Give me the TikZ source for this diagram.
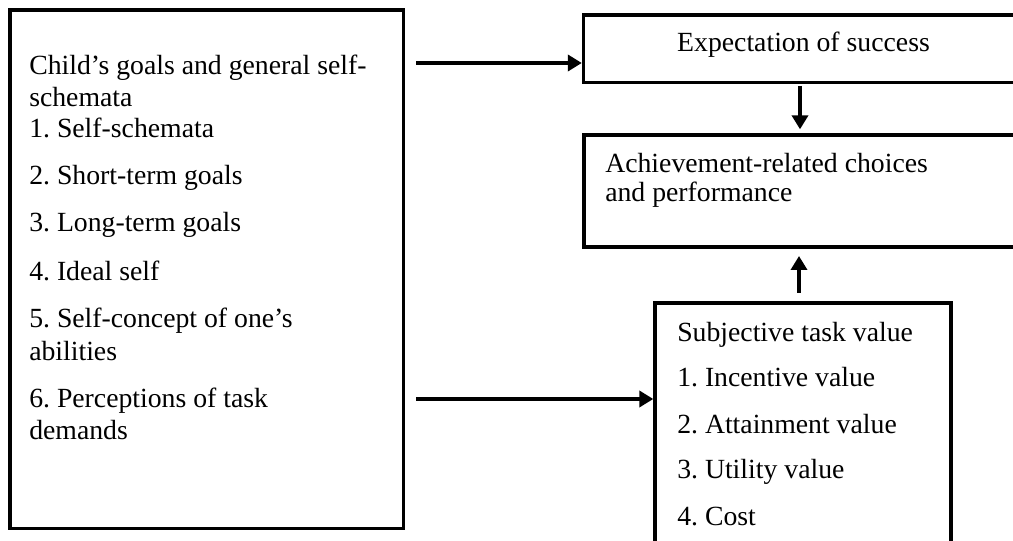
\documentclass[tikz,border=0pt]{standalone}
\usepackage{fontspec}
\setmainfont{Liberation Serif}
\frenchspacing
\usetikzlibrary{arrows.meta,fit}

\tikzset{
  box/.style={draw=black, line width=2.5pt, inner sep=0pt, fill=none},
  txt/.style={anchor=base west, inner sep=0pt, font=\fontsize{20.8}{24}\selectfont},
  arr/.style={line width=2.7pt, -{Triangle[length=10.5pt,width=12pt]}},
}

\begin{document}
\begin{tikzpicture}[x=0.75pt, y=-0.75pt]
  % page frame
  \clip (0,0) rectangle (1013,541);
  \fill[white] (0,0) rectangle (1013,541);

  % boxes
  \node[box, fit={(10,10) (403.5,528.5)}] (goals) {};
  \node[box, fit={(583.5,15) (1040,82.5)}] (expect) {};
  \node[box, fit={(584,135) (1040,247)}] (choice) {};
  \node[box, fit={(655,303) (951,600)}] (value) {};

  % left box text
  \node[txt] (g1) at (29,75)  {Child’s goals and general self-};
  \node[txt] (g2) at (29,106.5) {schemata};
  \node[txt] (g3) at (29,138) {1. Self-schemata};
  \node[txt] (g4) at (29,185) {2. Short-term goals};
  \node[txt] (g5) at (29,232) {3. Long-term goals};
  \node[txt] (g6) at (29,281) {4. Ideal self};
  \node[txt] (g7) at (29,328) {5. Self-concept of one’s};
  \node[txt] (g8) at (29,360) {abilities};
  \node[txt] (g9) at (29,407) {6. Perceptions of task};
  \node[txt] (g10) at (29,439) {demands};

  % right column text
  \node[txt, anchor=base] (e1) at (803.5,52) {Expectation of success};
  \node[txt] (c1) at (605,172.5) {Achievement-related choices};
  \node[txt] (c2) at (605,202) {and performance};
  \node[txt] (v1) at (677,341.5) {Subjective task value};
  \node[txt] (v2) at (677,387) {1. Incentive value};
  \node[txt] (v3) at (677,433) {2. Attainment value};
  \node[txt] (v4) at (677,478) {3. Utility value};
  \node[txt] (v5) at (677,525) {4. Cost};

  % connectors
  \coordinate (s1) at (416,63);
  \coordinate (s2) at (416,399);
  \coordinate (s3) at (800,86);
  \coordinate (s4) at (799,293);
  \draw[arr] (s1) -- (s1 -| expect.west);
  \draw[arr] (s2) -- (s2 -| value.west);
  \draw[arr, shorten >=3pt] (s3) -- (s3 |- choice.north);
  \draw[arr, shorten >=5.5pt] (s4) -- (s4 |- choice.south);
\end{tikzpicture}
\end{document}
